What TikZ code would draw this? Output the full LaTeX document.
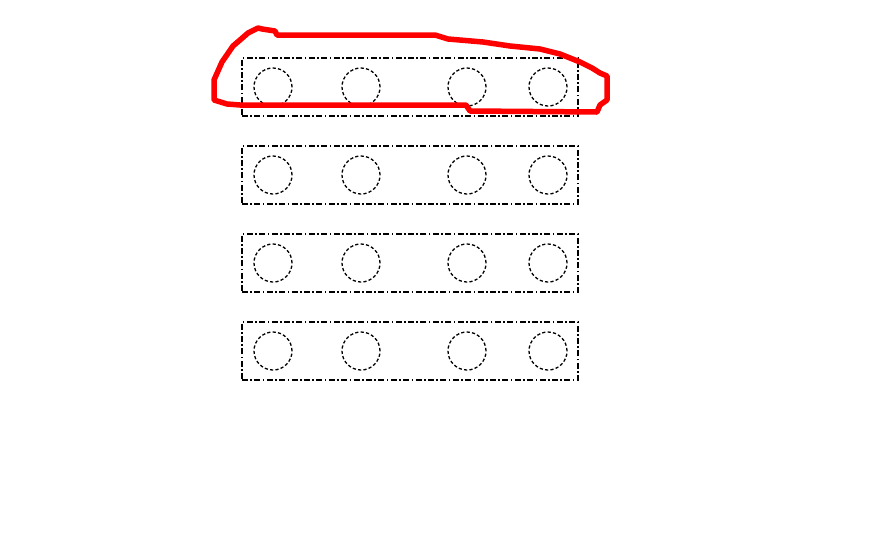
\documentclass[tikz,border=0pt]{standalone}
\begin{document}
\begin{tikzpicture}[x=1pt, y=-1pt,
		rowbox/.style={draw, line width=1.3pt, minimum width=336pt, minimum height=58pt,
			inner sep=0pt, dash pattern=on 6pt off 2.4pt on 1.6pt off 2.4pt},
		hole/.style={circle, draw, line width=1.3pt, minimum size=38pt, inner sep=0pt,
			dash pattern=on 3.2pt off 2.2pt},
		sketch/.style={draw=red, line width=5.5pt, line join=round, line cap=round}]
		\useasboundingbox (0,0) rectangle (870,539);
		\foreach\r in{1,...,4}{
			\node[rowbox] (row\r) at (410,-1+\r*88) {};
			\foreach\c/\x in{1/273, 2/361, 3/467, 4/548}{
				\node[hole] (h\r\c) at (\x,-1+\r*88) {};
			}
		}
		% hand drawn outline round the first row
		\draw[sketch] (258,28) -- (262,29) -- (275,31) -- (277,35) -- (435,35)
			-- (448,39) -- (483,42) -- (510,46) -- (540,49) -- (560,54)
			-- (580,62) -- (592,68) -- (600,73) -- (607,76) -- (607,100)
			-- (600,105) -- (597,112) -- (470,111) -- (466,105) -- (240,105)
			-- (227,104) -- (214,100) -- (214,80) -- (222,62) -- (233,46)
			-- (240,40) -- (248,33) -- (258,28);
	\end{tikzpicture}
\end{document}
